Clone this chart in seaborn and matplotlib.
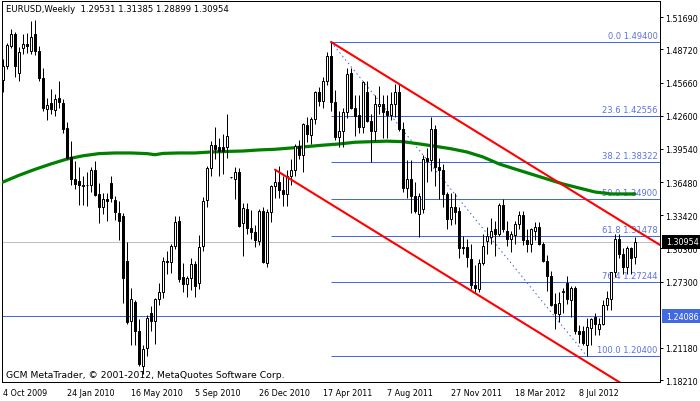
import numpy as np
import pandas as pd
import matplotlib
matplotlib.use("Agg")
import matplotlib.pyplot as plt
import matplotlib.transforms as mtrans
from matplotlib.patches import Rectangle
import seaborn as sns

# ---------------- data (weekly EURUSD) ----------------
opens = [1.4590, 1.4720, 1.4905, 1.5010, 1.4650, 1.4880, 1.4920, 1.4860, 1.5010, 1.4860,
         1.4610, 1.4320, 1.4380, 1.4310, 1.4420, 1.4380, 1.4150, 1.3880, 1.3680, 1.3660,
         1.3610, 1.3620, 1.3625, 1.3760, 1.3540, 1.3420, 1.3490, 1.3640, 1.3480, 1.3360,
         1.3330, 1.2920, 1.2370, 1.2540, 1.2270, 1.1950, 1.2120, 1.2440, 1.2370, 1.2570,
         1.2630, 1.2920, 1.2910, 1.3060, 1.3290, 1.2770, 1.2710, 1.2760, 1.2890, 1.2720,
         1.3060, 1.3480, 1.3780, 1.3990, 1.3970, 1.3970, 1.3970, 1.3690, 1.3680, 1.3740,
         1.3270, 1.3400, 1.3225, 1.3190, 1.3100, 1.3380, 1.2900, 1.3370, 1.3615, 1.3650,
         1.3570, 1.3540, 1.3700, 1.3760, 1.3980, 1.3900, 1.4170, 1.4080, 1.4230, 1.4475,
         1.4400, 1.4580, 1.4810, 1.4390, 1.4065, 1.4120, 1.4290, 1.4650, 1.4335, 1.4270,
         1.4160, 1.4480, 1.4210, 1.4120, 1.4350, 1.4370, 1.4300, 1.4270, 1.4370, 1.4480,
         1.4140, 1.3590, 1.3680, 1.3520, 1.3350, 1.3400, 1.3865, 1.3850, 1.4140, 1.3790,
         1.3760, 1.3540, 1.3310, 1.3420, 1.3380, 1.3040, 1.3050, 1.2940, 1.2700, 1.2660,
         1.2900, 1.3100, 1.3140, 1.3210, 1.3170, 1.3440, 1.3200, 1.3120, 1.3160, 1.3260,
         1.3345, 1.3110, 1.3080, 1.3200, 1.3235, 1.3080, 1.2915, 1.2780, 1.2520, 1.2430,
         1.2630, 1.2720, 1.2560, 1.2670, 1.2275, 1.2270, 1.2140, 1.2300, 1.2400, 1.2290,
         1.2335, 1.2515, 1.2570, 1.2815, 1.3125, 1.2980, 1.2860, 1.3040, 1.29531]
highs = [1.4780, 1.4930, 1.5060, 1.5030, 1.4890, 1.5010, 1.5020, 1.5130, 1.5145, 1.4900,
         1.4700, 1.4420, 1.4510, 1.4460, 1.4580, 1.4410, 1.4200, 1.4030, 1.3840, 1.3790,
         1.3700, 1.3740, 1.3790, 1.3840, 1.3640, 1.3550, 1.3550, 1.3700, 1.3520, 1.3470,
         1.3360, 1.3090, 1.2670, 1.2560, 1.2380, 1.2140, 1.2420, 1.2500, 1.2580, 1.2720,
         1.2960, 1.3010, 1.3080, 1.3330, 1.3330, 1.2900, 1.2780, 1.2950, 1.2920, 1.3160,
         1.3510, 1.3800, 1.4030, 1.4160, 1.4050, 1.4090, 1.4280, 1.3695, 1.3790, 1.3780,
         1.3450, 1.3450, 1.3390, 1.3250, 1.3400, 1.3420, 1.3400, 1.3620, 1.3762, 1.3800,
         1.3700, 1.3760, 1.3860, 1.4000, 1.4040, 1.4190, 1.4250, 1.4250, 1.4490, 1.4520,
         1.4620, 1.4850, 1.4940, 1.4500, 1.4300, 1.4330, 1.4700, 1.4700, 1.4450, 1.4450,
         1.4580, 1.4580, 1.4280, 1.4450, 1.4530, 1.4450, 1.4450, 1.4480, 1.4550, 1.4550,
         1.4200, 1.3850, 1.3850, 1.3650, 1.3550, 1.3900, 1.3960, 1.4248, 1.4170, 1.3870,
         1.3810, 1.3560, 1.3550, 1.3550, 1.3420, 1.3150, 1.3120, 1.3080, 1.2880, 1.2940,
         1.3170, 1.3230, 1.3320, 1.3290, 1.3450, 1.3490, 1.3290, 1.3200, 1.3290, 1.3385,
         1.3385, 1.3210, 1.3220, 1.3280, 1.3280, 1.3090, 1.2975, 1.2825, 1.2620, 1.2630,
         1.2670, 1.2780, 1.2690, 1.2690, 1.2330, 1.2320, 1.2390, 1.2390, 1.2440, 1.2390,
         1.2560, 1.2640, 1.2820, 1.3170, 1.3170, 1.3040, 1.3060, 1.3050, 1.31385]
lows = [1.4480, 1.4690, 1.4880, 1.4620, 1.4580, 1.4830, 1.4840, 1.4830, 1.4820, 1.4580,
        1.4300, 1.4220, 1.4280, 1.4260, 1.4330, 1.4100, 1.3860, 1.3620, 1.3580, 1.3440,
        1.3440, 1.3430, 1.3560, 1.3520, 1.3270, 1.3350, 1.3290, 1.3460, 1.3300, 1.3110,
        1.2530, 1.2340, 1.2140, 1.2140, 1.1950, 1.1876, 1.2040, 1.2270, 1.2150, 1.2510,
        1.2580, 1.2800, 1.2810, 1.3030, 1.2730, 1.2630, 1.2590, 1.2650, 1.2590, 1.2660,
        1.3010, 1.3420, 1.3700, 1.3860, 1.3700, 1.3720, 1.3870, 1.3685, 1.3490, 1.3230,
        1.2970, 1.3170, 1.3120, 1.3050, 1.3070, 1.2900, 1.2860, 1.3280, 1.3500, 1.3500,
        1.3430, 1.3430, 1.3620, 1.3700, 1.3860, 1.3740, 1.4020, 1.4000, 1.4180, 1.4350,
        1.4330, 1.4540, 1.4300, 1.4040, 1.3970, 1.3970, 1.4240, 1.4320, 1.4070, 1.4100,
        1.4100, 1.4200, 1.3835, 1.4030, 1.4280, 1.4050, 1.4050, 1.4220, 1.4250, 1.4120,
        1.3560, 1.3500, 1.3360, 1.3360, 1.3145, 1.3360, 1.3650, 1.3750, 1.3610, 1.3490,
        1.3420, 1.3210, 1.3250, 1.3260, 1.2950, 1.2980, 1.2860, 1.2660, 1.2624, 1.2630,
        1.2880, 1.2980, 1.3080, 1.2970, 1.3150, 1.3190, 1.3060, 1.3000, 1.3080, 1.3210,
        1.3070, 1.3000, 1.3000, 1.3110, 1.3070, 1.2910, 1.2645, 1.2500, 1.2290, 1.2360,
        1.2440, 1.2520, 1.2400, 1.2250, 1.2160, 1.2140, 1.2040, 1.2140, 1.2240, 1.2240,
        1.2330, 1.2470, 1.2470, 1.2770, 1.2950, 1.2800, 1.2800, 1.2800, 1.28899]
closes = [1.4720, 1.4910, 1.5010, 1.4720, 1.4850, 1.4920, 1.4900, 1.4990, 1.4860, 1.4610,
          1.4330, 1.4360, 1.4320, 1.4410, 1.4385, 1.4140, 1.3865, 1.3680, 1.3630, 1.3620,
          1.3625, 1.3625, 1.3760, 1.3530, 1.3420, 1.3490, 1.3470, 1.3500, 1.3370, 1.3290,
          1.2760, 1.2360, 1.2570, 1.2270, 1.1970, 1.2110, 1.2390, 1.2370, 1.2570, 1.2630,
          1.2920, 1.2910, 1.3060, 1.3280, 1.2750, 1.2710, 1.2760, 1.2890, 1.2690, 1.3050,
          1.3470, 1.3780, 1.3990, 1.3950, 1.3930, 1.3930, 1.4070, 1.3690, 1.3740, 1.3240,
          1.3410, 1.3220, 1.3190, 1.3110, 1.3380, 1.2910, 1.3370, 1.3610, 1.3650, 1.3570,
          1.3540, 1.3700, 1.3760, 1.3980, 1.3900, 1.4180, 1.4090, 1.4230, 1.4475, 1.4400,
          1.4580, 1.4810, 1.4390, 1.4060, 1.4120, 1.4290, 1.4640, 1.4330, 1.4260, 1.4160,
          1.4570, 1.4210, 1.4120, 1.4370, 1.4370, 1.4290, 1.4270, 1.4370, 1.4480, 1.4140,
          1.3590, 1.3680, 1.3520, 1.3380, 1.3520, 1.3860, 1.3840, 1.4140, 1.3790, 1.3760,
          1.3540, 1.3310, 1.3420, 1.3375, 1.3040, 1.3050, 1.2960, 1.2700, 1.2670, 1.2900,
          1.3060, 1.3150, 1.3200, 1.3170, 1.3440, 1.3210, 1.3120, 1.3170, 1.3260, 1.3345,
          1.3110, 1.3080, 1.3210, 1.3235, 1.3080, 1.2920, 1.2780, 1.2515, 1.2435, 1.2530,
          1.2640, 1.2570, 1.2670, 1.2270, 1.2245, 1.2160, 1.2310, 1.2385, 1.2340, 1.2335,
          1.2515, 1.2575, 1.2815, 1.3125, 1.2980, 1.2860, 1.3040, 1.2950, 1.30954]

# moving average (green) read at selected bars
ma_bars = [0, 4, 8, 12, 16, 20, 24, 28, 32, 36, 38, 40, 44, 48, 52, 56, 60, 64, 68, 72,
           76, 80, 84, 88, 92, 96, 100, 104, 108, 112, 116, 120, 124, 128, 132, 136, 140,
           144, 148, 152, 156, 158]
ma_values = [1.3648, 1.3710, 1.3765, 1.3815, 1.3860, 1.3890, 1.3910, 1.3916, 1.3916, 1.3910,
             1.3900, 1.3912, 1.3916, 1.3916, 1.3925, 1.3930, 1.3934, 1.3944, 1.3950, 1.3962,
             1.3975, 1.3988, 1.3999, 1.4015, 1.4020, 1.4025, 1.4020, 1.4000, 1.3978, 1.3955,
             1.3925, 1.3879, 1.3815, 1.3768, 1.3722, 1.3676, 1.3630, 1.3593, 1.3556, 1.3538,
             1.3538, 1.3538]

# Fibonacci retracement
fib_pct = [0.0, 23.6, 38.2, 50.0, 61.8, 76.4, 100.0]
fib_price = [1.49400, 1.42556, 1.38322, 1.34900, 1.31478, 1.27244, 1.20400]
fib_from_bar = 82
fib_to_bar = 146

# channel (red) anchor points: (bar, price)
upper_channel_bars = [82, 164.25]
upper_channel_prices = [1.4940, 1.3067]
lower_channel_bars = [68, 164.25]
lower_channel_prices = [1.3762, 1.1570]

hline_price = 1.24086
bid_price = 1.30954

ytick_values = [1.51690, 1.48720, 1.45660, 1.42600, 1.39540, 1.36480, 1.33420,
                1.30360, 1.27300, 1.21180, 1.18210]
xtick_bars = [0, 16, 32, 48, 64, 80, 96, 112, 128, 144]
xtick_labels = ["4 Oct 2009", "24 Jan 2010", "16 May 2010", "5 Sep 2010", "26 Dec 2010",
                "17 Apr 2011", "7 Aug 2011", "27 Nov 2011", "18 Mar 2012", "8 Jul 2012"]

title_text = "EURUSD,Weekly  1.29531 1.31385 1.28899 1.30954"
footer_text = "GCM MetaTrader, \u00a9 2001-2012, MetaQuotes Software Corp."

# ---------------- drawing ----------------
sns.set_style("white")
plt.rcParams["font.family"] = ["DejaVu Sans"]
FS = 5.8
PX = 0.72  # one pixel in points at 100 dpi

df = pd.DataFrame({"open": opens, "high": highs, "low": lows, "close": closes})
df["bar"] = np.arange(len(df))
df["top"] = df[["open", "close"]].max(axis=1)
df["bot"] = df[["open", "close"]].min(axis=1)
df["hi"] = np.maximum(df["high"], df["top"])
df["lo"] = np.minimum(df["low"], df["bot"])
df["bull"] = df["close"] >= df["open"]

W, H = 700, 402
fig = plt.figure(figsize=(W / 100, H / 100), dpi=100)
fig.patch.set_facecolor("white")
ax = fig.add_axes([2 / W, (H - 383) / H, 658 / W, 381 / H])
ax.set_facecolor("white")

ax.set_xlim(-0.25, 164.25)
ax.set_ylim(1.1803, 1.5318)

# horizontal full-width lines
ax.axhline(bid_price, color="#C0C0C0", lw=PX, zorder=1)
ax.axhline(hline_price, color="#4169E1", lw=PX, zorder=1)

# fibo levels
ax.hlines(fib_price, fib_from_bar, 164.25, color="#4169E1", lw=PX, zorder=1)
ax.plot([fib_from_bar, fib_to_bar], [fib_price[0], fib_price[-1]], color="#4169E1",
        lw=PX, ls=(0, (1.5, 3)), zorder=1)
for pct, pr in zip(fib_pct, fib_price):
    ax.text(163.6, pr + 0.0018, f"{pct:.1f} {pr:.5f}", ha="right", va="bottom",
            fontsize=FS + 0.2, color="#5C73E0", zorder=2)

# moving average via seaborn
sns.lineplot(x=ma_bars, y=ma_values, color="#008000", lw=2.3, ax=ax, zorder=3,
             sort=True, estimator=None)

# candles
ax.vlines(df["bar"], df["lo"], df["hi"], color="black", lw=PX, zorder=4)
bodyw = 0.55
bull = df[df["bull"]]
bear = df[~df["bull"]]
ax.bar(bull["bar"], bull["top"] - bull["bot"], bottom=bull["bot"], width=bodyw,
       color="white", edgecolor="black", lw=PX, zorder=5)
ax.bar(bear["bar"], bear["top"] - bear["bot"], bottom=bear["bot"], width=bodyw,
       color="black", edgecolor="black", lw=PX, zorder=5)

# channel lines
ax.plot(upper_channel_bars, upper_channel_prices, color="#FF0000", lw=1.5, zorder=6)
ax.plot(lower_channel_bars, lower_channel_prices, color="#FF0000", lw=1.5, zorder=6)

# axes styling
for s in ax.spines.values():
    s.set_color("black")
    s.set_linewidth(PX)
    s.set_visible(True)
ax.yaxis.tick_right()
ax.set_yticks(ytick_values)
ax.set_yticklabels([f"{v:.5f}" for v in ytick_values])
ax.set_xticks(xtick_bars)
ax.set_xticklabels(xtick_labels, ha="left")
ax.tick_params(axis="both", which="both", direction="out", length=2.2, width=PX,
               colors="black", labelsize=FS, pad=1.5)
ax.tick_params(axis="x", pad=2.0)
ax.set_xlabel("")
ax.set_ylabel("")
ax.grid(False)

# price label boxes on the right axis
bt = mtrans.blended_transform_factory(ax.transAxes, ax.transData)
half = 0.0064
for price, fc in [(hline_price, "#4169E1"), (bid_price, "black")]:
    ax.add_patch(Rectangle((1.0 + 1.5 / 658, price - half), 40 / 658, 2 * half,
                           transform=bt, facecolor=fc, edgecolor="none",
                           clip_on=False, zorder=10))
    ax.text(1.0 + 6 / 658, price, f"{price:.5f}", transform=bt, ha="left",
            va="center", fontsize=FS, color="white", zorder=11, clip_on=False)

fig.text(6 / W, 1 - 10 / H, title_text, ha="left", va="center", fontsize=6.1,
         color="black")
fig.text(6 / W, 1 - 376 / H, footer_text, ha="left", va="center", fontsize=6.7,
         color="black")

fig.savefig("out.png", dpi=100, facecolor="white")
